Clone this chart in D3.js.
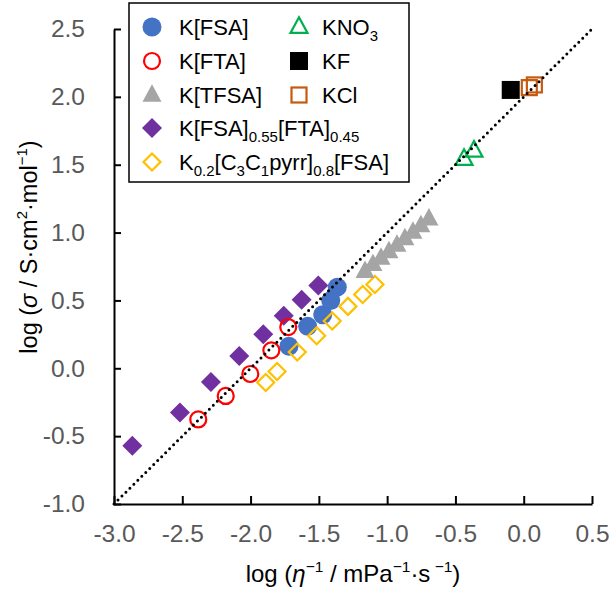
<!DOCTYPE html>
<html>
<head>
<meta charset="utf-8">
<script src="https://cdn.jsdelivr.net/npm/d3@7"></script>
<style>
  html, body { margin: 0; padding: 0; background: #fff; }
  svg { display: block; font-family: "Liberation Sans", Arial, sans-serif; }
</style>
</head>
<body>
<svg id="chart" width="609" height="592"></svg>
<script>
// Axis ticks
const xTicks = [-3.0, -2.5, -2.0, -1.5, -1.0, -0.5, 0.0, 0.5];
const xTickLabels = ["-3.0", "-2.5", "-2.0", "-1.5", "-1.0", "-0.5", "0.0", "0.5"];
const yTicks = [-1.0, -0.5, 0.0, 0.5, 1.0, 1.5, 2.0, 2.5];
const yTickLabels = ["-1.0", "-0.5", "0.0", "0.5", "1.0", "1.5", "2.0", "2.5"];

// Walden plot points: [log(1/eta), log(Lambda)]
const kFSA = [[-1.719, 0.162], [-1.582, 0.309], [-1.472, 0.395], [-1.413, 0.500], [-1.365, 0.598]];
const kFTA = [[-2.383, -0.377], [-2.182, -0.204], [-2.002, -0.042], [-1.848, 0.132], [-1.724, 0.304]];
const kTFSA = [[-1.162, 0.715], [-1.104, 0.765], [-1.045, 0.812], [-0.987, 0.860], [-0.928, 0.908],
               [-0.870, 0.955], [-0.811, 1.004], [-0.753, 1.052], [-0.694, 1.101]];
const kMix = [[-2.866, -0.571], [-2.517, -0.326], [-2.290, -0.101], [-2.083, 0.090],
              [-1.907, 0.250], [-1.757, 0.388], [-1.626, 0.505], [-1.504, 0.610]];
const kPyrr = [[-1.889, -0.105], [-1.806, -0.024], [-1.658, 0.120], [-1.516, 0.240],
               [-1.402, 0.348], [-1.287, 0.456], [-1.179, 0.544], [-1.089, 0.618]];
const kNO3 = [[-0.437, 1.542], [-0.364, 1.603]];
const kF = [[-0.095, 2.051]];
const kCl = [[0.041, 2.068], [0.078, 2.088]];

// Ideal KCl reference line
const idealLine = [[-3.0, -1.0], [0.5, 2.5]];

const svg = d3.select("#chart");
const x = d3.scaleLinear().domain([-3, 0.5]).range([114, 592]);
const y = d3.scaleLinear().domain([-1, 2.5]).range([504, 29]);

const tickColor = "#595959";

// Axes with inward ticks
const gx = svg.append("g").attr("transform", `translate(0,${y(-1)})`)
  .call(d3.axisBottom(x).tickValues(xTicks).tickSize(-8).tickSizeOuter(0).tickPadding(21)
    .tickFormat((d, i) => xTickLabels[i]));
const gy = svg.append("g").attr("transform", `translate(${x(-3)},0)`)
  .call(d3.axisLeft(y).tickValues(yTicks).tickSize(-7).tickSizeOuter(0).tickPadding(29)
    .tickFormat((d, i) => yTickLabels[i]));
[gx, gy].forEach(g => {
  g.select(".domain").attr("stroke", "#000").attr("stroke-width", 2);
  g.selectAll(".tick line").attr("stroke", "#000").attr("stroke-width", 2);
  g.selectAll(".tick text").attr("fill", tickColor).attr("font-size", 24.5)
    .attr("font-family", "Liberation Sans, Arial, sans-serif");
});

// Marker shapes
function drawSeries(parent, data, opts) {
  const g = parent.append("g");
  data.forEach(([a, b]) => {
    const cx = x(a), cy = y(b);
    let el;
    if (opts.kind === "circle") {
      el = g.append("circle").attr("cx", cx).attr("cy", cy).attr("r", opts.r);
    } else if (opts.kind === "diamond") {
      const h = opts.h;
      el = g.append("path").attr("d", `M${cx},${cy - h}L${cx + h},${cy}L${cx},${cy + h}L${cx - h},${cy}Z`);
    } else if (opts.kind === "triangle") {
      const w = opts.w, ht = w * 0.92;
      el = g.append("path").attr("d", `M${cx},${cy - ht * 0.62}L${cx + w / 2},${cy + ht * 0.38}L${cx - w / 2},${cy + ht * 0.38}Z`);
    } else if (opts.kind === "square") {
      const s = opts.s;
      el = g.append("rect").attr("x", cx - s / 2).attr("y", cy - s / 2).attr("width", s).attr("height", s);
    }
    el.attr("fill", opts.fill).attr("stroke", opts.stroke || "none").attr("stroke-width", opts.sw || 0);
  });
  return g;
}

const styles = {
  fsa:  { kind: "circle", r: 9.5, fill: "#4472C4" },
  fta:  { kind: "circle", r: 8, fill: "none", stroke: "#FF0000", sw: 2.2 },
  tfsa: { kind: "triangle", w: 19, fill: "#A5A5A5" },
  mix:  { kind: "diamond", h: 10, fill: "#7030A0" },
  pyrr: { kind: "diamond", h: 8.5, fill: "none", stroke: "#FFC000", sw: 2.2 },
  no3:  { kind: "triangle", w: 17, fill: "none", stroke: "#00B050", sw: 2.2 },
  kf:   { kind: "square", s: 18, fill: "#000" },
  kcl:  { kind: "square", s: 15, fill: "none", stroke: "#C55A11", sw: 2.2 }
};

const plot = svg.append("g");
drawSeries(plot, kMix, styles.mix);
drawSeries(plot, kFSA, styles.fsa);
drawSeries(plot, kPyrr, styles.pyrr);
drawSeries(plot, kFTA, styles.fta);
drawSeries(plot, kTFSA, styles.tfsa);
drawSeries(plot, kNO3, styles.no3);
drawSeries(plot, kF, styles.kf);
drawSeries(plot, kCl, styles.kcl);

// Dotted ideal line on top
svg.append("path")
  .attr("d", d3.line().x(d => x(d[0])).y(d => y(d[1]))(idealLine))
  .attr("stroke", "#000").attr("stroke-width", 3).attr("stroke-linecap", "round")
  .attr("stroke-dasharray", "0 5.6").attr("fill", "none");

// Axis titles
const xt = svg.append("text").attr("x", 353).attr("y", 582).attr("text-anchor", "middle")
  .attr("font-size", 24).attr("fill", "#000");
xt.append("tspan").text("log (");
xt.append("tspan").attr("font-style", "italic").text("η");
xt.append("tspan").attr("font-size", 15.5).attr("dy", -10).text("−1");
xt.append("tspan").attr("dy", 10).text(" / mPa");
xt.append("tspan").attr("font-size", 15.5).attr("dy", -10).text("−1");
xt.append("tspan").attr("dy", 10).text("·s");
xt.append("tspan").attr("font-size", 15.5).attr("dy", -10).text(" −1");
xt.append("tspan").attr("dy", 10).text(")");

const yt = svg.append("text").attr("transform", "translate(37,247) rotate(-90)")
  .attr("text-anchor", "middle").attr("font-size", 23.5).attr("fill", "#000");
yt.append("tspan").text("log (");
yt.append("tspan").attr("font-style", "italic").text("σ");
yt.append("tspan").text(" / S·cm");
yt.append("tspan").attr("font-size", 15).attr("dy", -10).text("2");
yt.append("tspan").attr("dy", 10).text("·mol");
yt.append("tspan").attr("font-size", 15).attr("dy", -10).text("−1");
yt.append("tspan").attr("dy", 10).text(")");

// Legend
const legend = svg.append("g");
legend.append("rect").attr("x", 129).attr("y", 3).attr("width", 280).attr("height", 179)
  .attr("fill", "#fff").attr("stroke", "#000").attr("stroke-width", 1.5);

const legendItems = [
  { key: "fsa",  col: 0, row: 0, parts: [["K[FSA]"]] },
  { key: "fta",  col: 0, row: 1, parts: [["K[FTA]"]] },
  { key: "tfsa", col: 0, row: 2, parts: [["K[TFSA]"]] },
  { key: "mix",  col: 0, row: 3, parts: [["K[FSA]"], ["0.55", "sub"], ["[FTA]"], ["0.45", "sub"]] },
  { key: "pyrr", col: 0, row: 4, parts: [["K"], ["0.2", "sub"], ["[C"], ["3", "sub"], ["C"], ["1", "sub"], ["pyrr]"], ["0.8", "sub"], ["[FSA]"]] },
  { key: "no3",  col: 1, row: 0, parts: [["KNO"], ["3", "sub"]] },
  { key: "kf",   col: 1, row: 1, parts: [["KF"]] },
  { key: "kcl",  col: 1, row: 2, parts: [["KCl"]] }
];
const rowY = [27, 61, 95, 128, 162];
const markX = [152, 299];
const textX = [179, 322];

legendItems.forEach(it => {
  const cy = rowY[it.row], cx = markX[it.col];
  drawSeries(legend, [[x.invert(cx), y.invert(cy)]], styles[it.key]);

  const t = legend.append("text").attr("x", textX[it.col]).attr("y", cy + 8)
    .attr("font-size", 22).attr("fill", "#000");
  let shifted = false;
  it.parts.forEach(([s, kind]) => {
    const sp = t.append("tspan").text(s);
    if (kind === "sub") {
      sp.attr("font-size", 15).attr("dy", shifted ? 0 : 6);
      shifted = true;
    } else {
      if (shifted) sp.attr("dy", -6);
      shifted = false;
    }
  });
});
</script>
</body>
</html>
